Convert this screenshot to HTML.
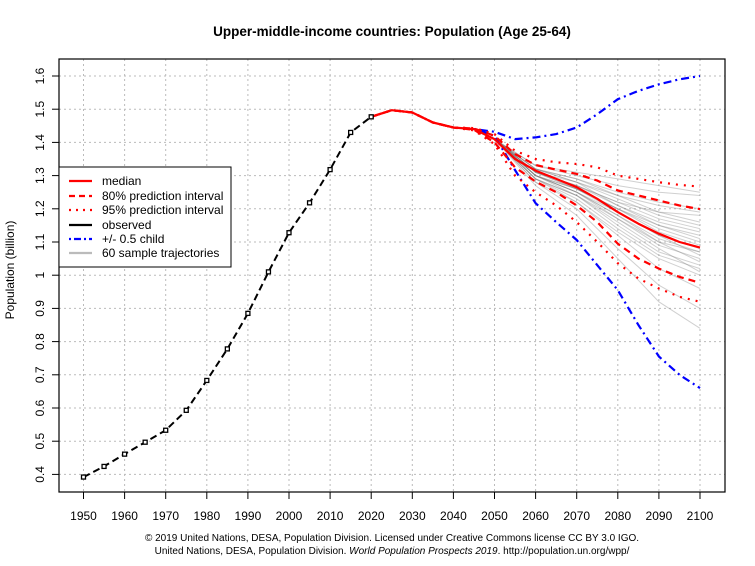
<!DOCTYPE html>
<html><head><meta charset="utf-8"><style>
body{margin:0;background:#fff;}
svg{display:block;font-family:"Liberation Sans",Arial,sans-serif;}
</style></head><body>
<svg id="chart" width="755" height="566" viewBox="0 0 755 566">
<text x="392" y="36" text-anchor="middle" font-size="13.5" font-weight="bold">Upper-middle-income countries: Population (Age 25-64)</text>
<text transform="translate(14,270) rotate(-90)" text-anchor="middle" font-size="12">Population (billion)</text>
<g id="grid"></g>
<g id="samples"></g>
<g id="series"></g>
<rect x="59" y="59" width="666" height="433" fill="none" stroke="#000" stroke-width="1.2"/>
<g id="axes"></g>
<g>
<rect x="59" y="167" width="172" height="100" fill="#fff" stroke="#000"/>
<g font-size="12">
<line x1="69" y1="181" x2="92" y2="181" stroke="red" stroke-width="2.2"/><text x="102" y="185">median</text>
<line x1="69" y1="196" x2="92" y2="196" stroke="red" stroke-width="2.2" stroke-dasharray="6,4"/><text x="102" y="200">80% prediction interval</text>
<line x1="69" y1="210" x2="92" y2="210" stroke="red" stroke-width="2.2" stroke-dasharray="2,5"/><text x="102" y="214">95% prediction interval</text>
<line x1="69" y1="225" x2="92" y2="225" stroke="#000" stroke-width="2.2"/><text x="102" y="229">observed</text>
<line x1="69" y1="239" x2="92" y2="239" stroke="blue" stroke-width="2.2" stroke-dasharray="2,3,7,3"/><text x="102" y="243">+/- 0.5 child</text>
<line x1="69" y1="253" x2="92" y2="253" stroke="#bbb" stroke-width="2.2"/><text x="102" y="257">60 sample trajectories</text>
</g></g>
<text x="392" y="541" text-anchor="middle" font-size="10">© 2019 United Nations, DESA, Population Division. Licensed under Creative Commons license CC BY 3.0 IGO.</text>
<text x="392" y="554" text-anchor="middle" font-size="10">United Nations, DESA, Population Division. <tspan font-style="italic">World Population Prospects 2019</tspan>. http://population.un.org/wpp/</text>
</svg>
<script>
const xTicks=[1950,1960,1970,1980,1990,2000,2010,2020,2030,2040,2050,2060,2070,2080,2090,2100];
const yTicks=[0.4,0.5,0.6,0.7,0.8,0.9,1.0,1.1,1.2,1.3,1.4,1.5,1.6];
const yTickLabels=["0.4","0.5","0.6","0.7","0.8","0.9","1","1.1","1.2","1.3","1.4","1.5","1.6"];
const obsYears=[1950,1955,1960,1965,1970,1975,1980,1985,1990,1995,2000,2005,2010,2015,2020];
const observed=[0.392,0.424,0.461,0.497,0.533,0.593,0.683,0.778,0.885,1.010,1.128,1.218,1.318,1.430,1.477];
const projYears=[2020,2025,2030,2035,2040,2045,2050,2055,2060,2065,2070,2075,2080,2085,2090,2095,2100];
const median=[1.477,1.497,1.490,1.460,1.445,1.440,1.410,1.350,1.315,1.290,1.265,1.230,1.190,1.155,1.125,1.100,1.083];
const upper80=[1.477,1.497,1.490,1.460,1.445,1.442,1.420,1.365,1.332,1.318,1.305,1.285,1.255,1.240,1.225,1.210,1.199];
const lower80=[1.477,1.497,1.490,1.460,1.445,1.438,1.400,1.325,1.282,1.250,1.210,1.160,1.095,1.050,1.020,0.995,0.977];
const upper95=[1.477,1.497,1.490,1.460,1.445,1.443,1.425,1.375,1.350,1.340,1.335,1.325,1.300,1.290,1.280,1.272,1.267];
const lower95=[1.477,1.497,1.490,1.460,1.445,1.436,1.395,1.300,1.250,1.210,1.160,1.100,1.036,0.990,0.960,0.935,0.920];
const childYears=[2045,2050,2055,2060,2065,2070,2075,2080,2085,2090,2095,2100];
const childHigh=[1.440,1.432,1.410,1.415,1.425,1.445,1.485,1.530,1.555,1.575,1.590,1.600];
const childLow=[1.440,1.420,1.317,1.217,1.160,1.106,1.030,0.955,0.850,0.755,0.700,0.660];
const sampleYears=[2050,2060,2070,2080,2090,2100];
const samples=[
[1.41,1.33,1.30,1.27,1.25,1.24],[1.41,1.32,1.29,1.25,1.22,1.20],[1.41,1.31,1.27,1.22,1.17,1.14],
[1.41,1.32,1.28,1.23,1.18,1.15],[1.41,1.30,1.26,1.20,1.14,1.10],[1.41,1.31,1.26,1.19,1.12,1.08],
[1.41,1.30,1.25,1.17,1.09,1.05],[1.41,1.29,1.24,1.15,1.07,1.03],[1.41,1.30,1.24,1.16,1.08,1.01],
[1.41,1.28,1.22,1.12,1.02,0.96],[1.41,1.28,1.20,1.08,0.97,0.90],[1.41,1.27,1.18,1.05,0.92,0.84],
[1.41,1.33,1.31,1.29,1.27,1.25],[1.41,1.32,1.28,1.21,1.15,1.12],[1.41,1.31,1.27,1.21,1.16,1.13],
[1.41,1.30,1.25,1.18,1.11,1.07],[1.41,1.31,1.27,1.22,1.19,1.18],[1.41,1.29,1.23,1.14,1.06,1.02],
[1.41,1.30,1.26,1.20,1.13,1.09],[1.41,1.32,1.29,1.24,1.19,1.16],[1.41,1.29,1.22,1.13,1.05,1.00],
[1.41,1.31,1.26,1.20,1.15,1.11],[1.41,1.30,1.25,1.19,1.12,1.06],[1.41,1.31,1.28,1.24,1.21,1.19],
[1.41,1.29,1.24,1.17,1.10,1.04],[1.41,1.30,1.25,1.18,1.10,1.07]
];
const NS="http://www.w3.org/2000/svg";
const X=y=>83.5+(y-1950)*(616.5/150);
const Y=v=>76+(1.6-v)*332;
function el(tag,attrs,parent){const e=document.createElementNS(NS,tag);for(const k in attrs)e.setAttribute(k,attrs[k]);parent.appendChild(e);return e;}
const grid=document.getElementById('grid'),axes=document.getElementById('axes'),sg=document.getElementById('samples'),ser=document.getElementById('series');
xTicks.forEach(t=>{
  const g=el('line',{x1:X(t),x2:X(t),y1:59,y2:492,stroke:'#bbb','stroke-dasharray':'2,3'},grid);
  
  
  const tk=el('line',{x1:X(t),x2:X(t),y1:492,y2:499,stroke:'#000'},axes);
  
  
  const tx=el('text',{x:X(t),y:520,'text-anchor':'middle','font-size':12},axes);tx.textContent=t;
  
  
});
yTicks.forEach((t,i)=>{
  const g=el('line',{x1:59,x2:725,y1:Y(t),y2:Y(t),stroke:'#bbb','stroke-dasharray':'2,3'},grid);
  
  
  const tk=el('line',{x1:52,x2:59,y1:Y(t),y2:Y(t),stroke:'#000'},axes);
  
  
  const tx=el('text',{transform:`translate(44,${Y(t)}) rotate(-90)`,'text-anchor':'middle','font-size':12},axes);tx.textContent=yTickLabels[i];
  
  
});
const pts=(xs,vs)=>xs.map((x,i)=>X(x).toFixed(1)+','+Y(vs[i]).toFixed(1)).join(' ');
samples.forEach(s=>{
  const p=el('polyline',{points:pts(sampleYears,s),fill:'none',stroke:'#777','stroke-opacity':0.35,'stroke-width':1},sg);
  
  
});
function line(xs,vs,attrs,name){const p=el('polyline',Object.assign({points:pts(xs,vs),fill:'none','stroke-linejoin':'round'},attrs),ser);
  
  }
line(childYears,childHigh,{stroke:'blue','stroke-width':2.2,'stroke-dasharray':'2,4,8,4'},'child-high-line');
line(childYears,childLow,{stroke:'blue','stroke-width':2.2,'stroke-dasharray':'2,4,8,4'},'child-low-line');
line(projYears,upper95,{stroke:'red','stroke-width':2.2,'stroke-dasharray':'2,6'},'upper-95-line');
line(projYears,lower95,{stroke:'red','stroke-width':2.2,'stroke-dasharray':'2,6'},'lower-95-line');
line(projYears,upper80,{stroke:'red','stroke-width':2.2,'stroke-dasharray':'7,5'},'upper-80-line');
line(projYears,lower80,{stroke:'red','stroke-width':2.2,'stroke-dasharray':'7,5'},'lower-80-line');
line(projYears,median,{stroke:'red','stroke-width':2.2},'median-line');
line(obsYears,observed,{stroke:'#000','stroke-width':2,'stroke-dasharray':'7,4'},'observed-line');
obsYears.forEach((y,i)=>{
  const r=el('rect',{x:X(y)-2,y:Y(observed[i])-2,width:4,height:4,fill:'#fff',stroke:'#000','stroke-width':1.3},ser);
  
  
});
</script>
</body></html>
